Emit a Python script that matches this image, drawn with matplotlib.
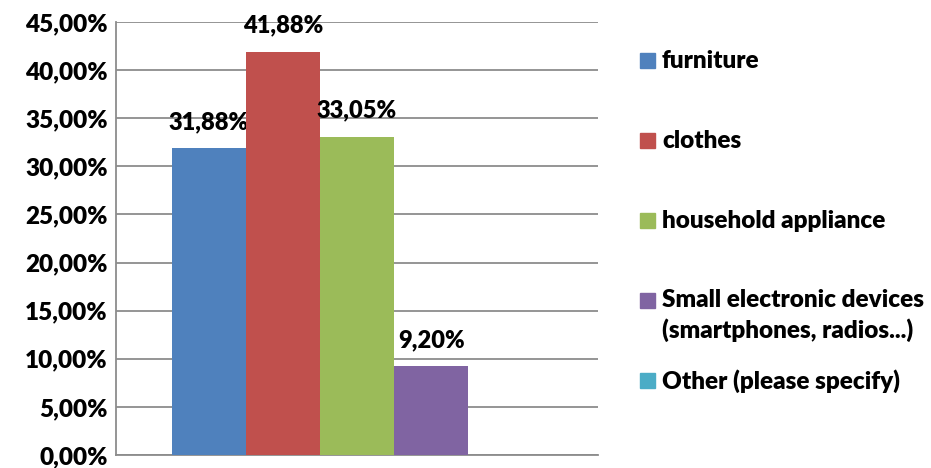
import matplotlib.pyplot as plt
from matplotlib.patches import Rectangle

# survey answers (share of respondents)
categories = ['furniture', 'clothes', 'household appliance',
              'Small electronic devices\n(smartphones, radios...)',
              'Other (please specify)']
values = [31.88, 41.88, 33.05, 9.20, 0.0]
value_labels = ['31,88%', '41,88%', '33,05%', '9,20%', None]
yticks = [0, 5, 10, 15, 20, 25, 30, 35, 40, 45]
ytick_labels = ['0,00%', '5,00%', '10,00%', '15,00%', '20,00%', '25,00%',
                '30,00%', '35,00%', '40,00%', '45,00%']
colors = ['#4F81BD', '#C0504D', '#9BBB59', '#8064A2', '#4BACC6']

plt.rcParams['font.family'] = ['Lato', 'DejaVu Sans']
wt = 'heavy'
fs = 17

fig = plt.figure(figsize=(9.31, 4.68), dpi=100)
ax = fig.add_axes([116 / 931, 13 / 468, 482 / 931, 433 / 468])

n = len(values)
w = 1 / (n + 1.5)
for i, (v, c) in enumerate(zip(values, colors)):
    x = -0.5 + 0.75 * w + (i + 0.5) * w
    ax.bar(x, v, width=w, color=c, zorder=3)
    if value_labels[i]:
        ax.annotate(value_labels[i], (x, v), xytext=(0, 19), textcoords='offset points',
                    ha='center', va='center', fontsize=fs, fontweight=wt)

ax.set_xlim(-0.5, 0.5)
ax.set_ylim(0, 45)
ax.set_yticks(yticks)
ax.set_yticklabels(ytick_labels, fontsize=fs + 0.5, fontweight=wt)
ax.set_xticks([])
ax.tick_params(axis='y', length=0, pad=6)
ax.yaxis.grid(True, color='#8C8C8C', linewidth=1.3, zorder=0)
for s in ['top', 'right']:
    ax.spines[s].set_visible(False)
for s in ['left', 'bottom']:
    ax.spines[s].set_color('#8C8C8C')
    ax.spines[s].set_linewidth(1.3)

# legend drawn on the figure, right of the plot
legend_y = [61, 141, 221, 301, 381]
for lab, c, yp in zip(categories, colors, legend_y):
    fig.patches.append(Rectangle((640 / 931, 1 - (yp + 7) / 468), 15 / 931, 15 / 468,
                                 transform=fig.transFigure, color=c))
    if '\n' in lab:
        fig.text(662 / 931, 1 - (yp - 12) / 468, lab, fontsize=fs + 0.5, fontweight=wt,
                 va='top', ha='left', linespacing=1.38)
    else:
        fig.text(662 / 931, 1 - yp / 468, lab, fontsize=fs + 0.5, fontweight=wt,
                 va='center', ha='left')

fig.savefig('out.png', dpi=100)
